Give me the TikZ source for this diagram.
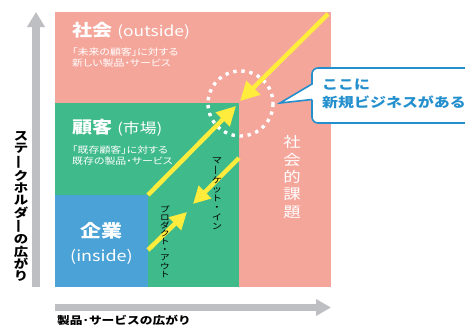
\documentclass[tikz,border=0pt]{standalone}
\usepackage{fontspec}
\usepackage{graphicx}
\usetikzlibrary{arrows.meta}
\newfontfamily\jp[FakeStretch=1.2]{Noto Sans CJK JP}
\newfontfamily\jpp[FakeStretch=1.2,RawFeature=+palt]{Noto Sans CJK JP}
\newcommand\vbar{\rotatebox[origin=c]{90}{ー}}
\definecolor{pinkc}{RGB}{245,166,155}
\definecolor{greenc}{RGB}{62,186,139}
\definecolor{bluec}{RGB}{75,162,214}
\definecolor{axisc}{RGB}{190,191,195}
\definecolor{yel}{RGB}{255,236,60}
\definecolor{callc}{RGB}{35,143,205}
\tikzset{
  axisarrow/.style={axisc, line width=#1},
  yarrow/.style={yel, line width=4.5pt, -{Triangle[width=#1,length=#1]}},
  wtitle/.style={anchor=base west, inner sep=0, text=white, font=\jp\bfseries\fontsize{16.7}{18}\selectfont},
  wsmall/.style={anchor=base west, inner sep=0, text=white, font=\jpp\fontsize{9.1}{11.5}\selectfont, align=left},
  vstack/.style={align=center, inner sep=0},
}
\begin{document}
\begin{tikzpicture}[x=1pt,y=-1pt]
\clip (0,0) rectangle (465,327);
\fill[white] (0,0) rectangle (465,327);
% regions
\fill[pinkc] (55,12) rectangle (331,287);
\fill[greenc] (55,103) rectangle (239,287);
\fill[bluec] (55,195) rectangle (148,287);
% axes
\coordinate (yb) at (36,287);
\coordinate (yt) at (36,12);
\coordinate (xl) at (55,307.5);
\coordinate (xr) at (331,307.5);
\draw[axisarrow=8pt, -{Triangle[width=17pt,length=15pt]}] (yb) -- (yt);
\draw[axisarrow=7pt, -{Triangle[width=16pt,length=15pt]}] (xl) -- (xr);
% dotted circle
\coordinate (ring) at (240.5,103.5);
\draw[white, line width=3.4pt, dash pattern=on 3.4pt off 4.7pt] (ring) circle (32.5);
% yellow arrows
\coordinate (a1s) at (328,14);
\coordinate (a1e) at (240,101);
\coordinate (a2s) at (148,195);
\coordinate (a2e) at (236,106);
\coordinate (a3s) at (239,158);
\coordinate (a3e) at (193,204);
\coordinate (a4s) at (148,250);
\coordinate (a4e) at (187,212);
\draw[yarrow=19pt] (a1s) -- (a1e);
\draw[yarrow=19pt] (a2s) -- (a2e);
\draw[yarrow=17pt] (a3s) -- (a3e);
\draw[yarrow=17pt] (a4s) -- (a4e);
% callout
\draw[callc, fill=white, line width=1.6pt, rounded corners=6pt] (312,68) rectangle (485,123);
\fill[white] (310,85) rectangle (314,98.5);
\fill[white] (280,103) -- (313,84.5) -- (313,99.5) -- cycle;
\coordinate (ptip) at (280,103);
\coordinate (pu) at (312,84);
\coordinate (pl) at (312,99.5);
\draw[callc, line width=1.6pt, line join=miter] (pu) -- (ptip) -- (pl);
\node[anchor=base west, inner sep=0, text=callc, font=\jp\bfseries\fontsize{13.3}{18}\selectfont, align=left] (callout) at (322,107.5) {ここに\\新規ビジネスがある};
% titles
\node[wtitle] (shakai) at (72,36.5) {社会\hspace{5pt}{\mdseries\fontsize{14.5}{16}\selectfont(outside)}};
\node[wsmall] (shakaitxt) at (72,66.5) {「未来の顧客」に対する\\新しい製品・サービス};
\node[wtitle] (kokyaku) at (72,133) {顧客\hspace{5pt}{\mdseries\fontsize{14}{16}\selectfont(市場)}};
\node[wsmall] (kokyakutxt) at (72,164.5) {「既存顧客」に対する\\既存の製品・サービス};
\node[inner sep=0, text=white, font=\jp\bfseries\fontsize{17.5}{18}\selectfont] (kigyo) at (101.5,230.5) {企業};
\node[inner sep=0, text=white, font=\jp\fontsize{15}{16}\selectfont] (inside) at (101.5,256.5) {(inside)};
% vertical texts
\node[vstack, text=white, font=\jp\fontsize{14.5}{17.4}\selectfont] (kadai) at (292,177) {社\\会\\的\\課\\題};
\node[vstack, font=\jp\fontsize{8.5}{9.1}\selectfont] (mktin) at (217,193.5) {マ\\\vbar\\ケ\\ッ\\ト\\・\\イ\\ン};
\node[vstack, font=\jp\fontsize{8}{8.1}\selectfont] (prdout) at (165,241.5) {プ\\ロ\\ダ\\ク\\ト\\・\\ア\\ウ\\ト};
\node[vstack, font=\jp\bfseries\fontsize{12}{12.25}\selectfont] (ylabel) at (21,206.5) {ス\\テ\\\vbar\\ク\\ホ\\ル\\ダ\\\vbar\\の\\広\\が\\り};
\node[anchor=base west, inner sep=0, font=\jp\bfseries\fontsize{10.6}{12}\selectfont] (xlabel) at (57,324.5) {製品･サービスの広がり};
\end{tikzpicture}
\end{document}
